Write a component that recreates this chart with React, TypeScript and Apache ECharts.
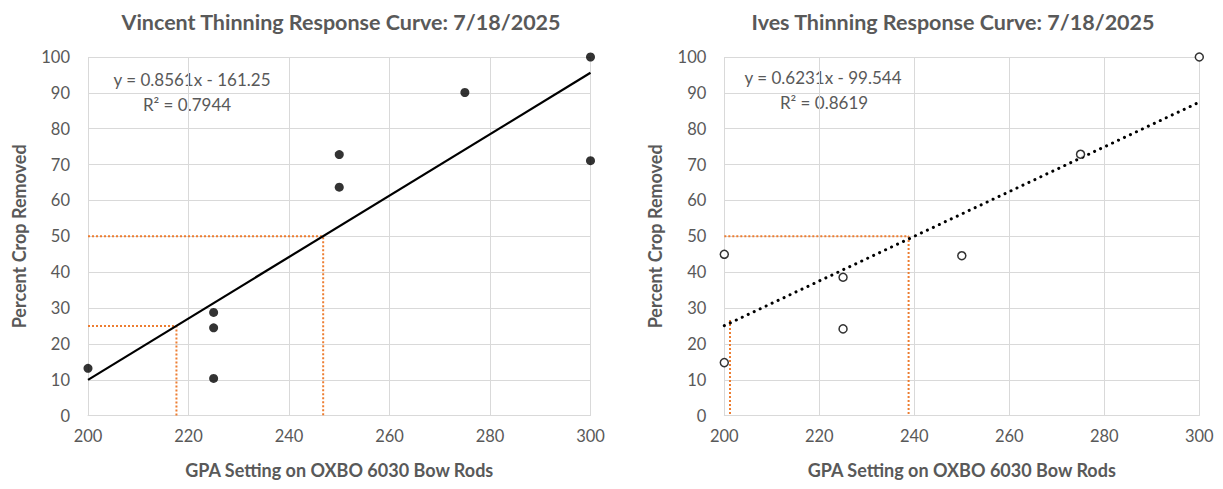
import React, { useEffect, useRef } from "react";
import * as echarts from "echarts";

// Vincent data
const vincentX = [200, 225, 225, 225, 250, 250, 275, 300, 300];
const vincentY = [13.2, 28.8, 24.5, 10.4, 72.8, 63.7, 90.1, 100, 71.1];
const vincentTrendX = [200, 300];
const vincentTrendY = [10.0, 95.6];
const vincentRef50 = [[200, 50], [246.8, 50], [246.8, 0]];
const vincentRef25 = [[200, 25], [217.6, 25], [217.6, 0]];

// Ives data
const ivesX = [200, 200, 225, 225, 250, 275, 300];
const ivesY = [45.0, 14.8, 38.6, 24.2, 44.6, 72.9, 100];
const ivesTrendX = [200, 300];
const ivesTrendY = [25.1, 87.4];
const ivesRef50 = [[200, 50], [238.8, 50], [238.8, 0]];
const ivesRefLow = [[201.2, 26.7], [201.2, 0]];

const xTicks = { min: 200, max: 300, interval: 20 };
const yTicks = { min: 0, max: 100, interval: 10 };

const titles = [
  "Vincent Thinning Response Curve: 7/18/2025",
  "Ives Thinning Response Curve: 7/18/2025",
];
const equations = ["y = 0.8561x - 161.25", "y = 0.6231x - 99.544"];
const r2s = ["R² = 0.7944", "R² = 0.8619"];
const xName = "GPA Setting on OXBO 6030 Bow Rods";
const yName = "Percent Crop Removed";

const FONT = "Lato, 'Open Sans', sans-serif";
const GRAY = "#595959";
const GRID = "#d9d9d9";
const ORANGE = "#ED7D31";

const zip = (xs: number[], ys: number[]) => xs.map((x, i) => [x, ys[i]]);

export default function App() {
  const ref = useRef<HTMLDivElement>(null);
  useEffect(() => {
    if (!ref.current) return;
    const chart = echarts.init(ref.current, null, { renderer: "svg" });

    const xAxisBase = (gridIndex: number) => ({
      type: "value",
      gridIndex,
      ...xTicks,
      axisLine: { show: true, lineStyle: { color: GRID, width: 1 } },
      axisTick: { show: false },
      splitLine: { show: true, lineStyle: { color: GRID, width: 1 } },
      axisLabel: { fontSize: 16.5, color: GRAY, fontFamily: FONT, margin: 12 },
      name: xName,
      nameLocation: "middle",
      nameGap: 45,
      nameTextStyle: { fontSize: 18, fontWeight: "bold", color: GRAY, fontFamily: FONT },
    });
    const yAxisBase = (gridIndex: number) => ({
      type: "value",
      gridIndex,
      ...yTicks,
      axisLine: { show: false },
      axisTick: { show: false },
      splitLine: { show: true, lineStyle: { color: GRID, width: 1 } },
      axisLabel: { fontSize: 16.5, color: GRAY, fontFamily: FONT, margin: 18 },
      name: yName,
      nameLocation: "middle",
      nameGap: 60,
      nameTextStyle: { fontSize: 18, fontWeight: "bold", color: GRAY, fontFamily: FONT },
    });

    const refLine = (data: number[][], idx: number) => ({
      type: "line",
      xAxisIndex: idx,
      yAxisIndex: idx,
      data,
      symbol: "none",
      silent: true,
      lineStyle: { color: ORANGE, width: 2, type: [2, 2] },
      z: 3,
    });

    const textEl = (text: string, x: number, y: number, bold: boolean, size: number) => ({
      type: "text",
      x,
      y,
      style: {
        text,
        fill: GRAY,
        font: `${bold ? "bold " : ""}${size}px ${FONT}`,
        textAlign: "center",
        textVerticalAlign: "middle",
      },
    });

    chart.setOption({
      animation: false,
      backgroundColor: "#ffffff",
      grid: [
        { left: 88, top: 57, width: 502.5, height: 358.7 },
        { left: 724.3, top: 57, width: 475, height: 358.7 },
      ],
      xAxis: [xAxisBase(0), xAxisBase(1)],
      yAxis: [yAxisBase(0), yAxisBase(1)],
      graphic: [
        textEl(titles[0], 341, 22, true, 21.5),
        textEl(titles[1], 953, 22, true, 21.5),
        textEl(equations[0], 192, 79, false, 17),
        textEl(r2s[0], 187, 104, false, 17),
        textEl(equations[1], 823, 77, false, 17),
        textEl(r2s[1], 824, 102, false, 17),
      ],
      series: [
        refLine(vincentRef50, 0),
        refLine(vincentRef25, 0),
        {
          type: "scatter",
          xAxisIndex: 0,
          yAxisIndex: 0,
          data: zip(vincentX, vincentY),
          symbol: "circle",
          symbolSize: 9,
          itemStyle: { color: "#000000" },
          z: 4,
        },
        {
          type: "line",
          xAxisIndex: 0,
          yAxisIndex: 0,
          data: zip(vincentTrendX, vincentTrendY),
          symbol: "none",
          lineStyle: { color: "#000000", width: 2.2 },
          z: 5,
        },
        refLine(ivesRef50, 1),
        refLine(ivesRefLow, 1),
        {
          type: "line",
          xAxisIndex: 1,
          yAxisIndex: 1,
          data: zip(ivesTrendX, ivesTrendY),
          symbol: "none",
          lineStyle: { color: "#000000", width: 3, type: [0.1, 6.5], cap: "round" },
          z: 4,
        },
        {
          type: "scatter",
          xAxisIndex: 1,
          yAxisIndex: 1,
          data: zip(ivesX, ivesY),
          symbol: "circle",
          symbolSize: 8,
          itemStyle: { color: "#ffffff", borderColor: "#000000", borderWidth: 1.5 },
          z: 5,
        },
      ],
    });
    return () => chart.dispose();
  }, []);

  return (
    <div
      ref={ref}
      style={{ position: "absolute", left: 0, top: 0, width: 1223, height: 489, background: "#fff" }}
    />
  );
}
